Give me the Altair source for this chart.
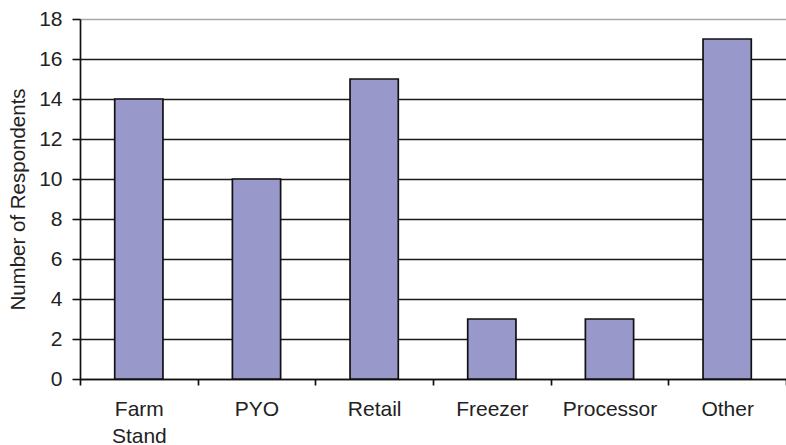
import altair as alt
import pandas as pd

# Survey: number of respondents by sales outlet
categories = ["Farm Stand", "PYO", "Retail", "Freezer", "Processor", "Other"]
respondents = [14, 10, 15, 3, 3, 17]
y_ticks = [0, 2, 4, 6, 8, 10, 12, 14, 16, 18]

df = pd.DataFrame({"outlet": categories, "respondents": respondents})

FONT = "Liberation Sans"

bars = alt.Chart(df).mark_bar(
    width=alt.RelativeBandSize(0.41),
    color="#9898ca",
    stroke="#111111",
    strokeWidth=1.7,
).encode(
    x=alt.X(
        "outlet:N",
        sort=categories,
        title=None,
        scale=alt.Scale(paddingInner=0, paddingOuter=0),
        axis=alt.Axis(
            labelAngle=0,
            tickBand="extent",
            labelExpr="split(datum.label, ' ')",
            labelLineHeight=27,
            labelFont=FONT,
            labelFontSize=21,
            labelColor="#222222",
            labelPadding=13,
            tickSize=6,
            tickColor="#111111",
            tickWidth=1.7,
            domainColor="#111111",
            domainWidth=1.7,
            grid=False,
        ),
    ),
    y=alt.Y(
        "respondents:Q",
        title="Number of Respondents",
        scale=alt.Scale(domain=[0, 18], nice=False),
        axis=alt.Axis(
            values=y_ticks,
            grid=True,
            gridColor={"condition": {"test": "datum.value === 18", "value": "#a8a8a8"}, "value": "#1a1a1a"},
            gridWidth=1.6,
            tickSize=8,
            tickColor="#111111",
            tickWidth=1.6,
            domainColor="#111111",
            domainWidth=1.7,
            labelFont=FONT,
            labelFontSize=21,
            labelColor="#222222",
            labelPadding=10,
            titleFont=FONT,
            titleFontSize=20.5,
            titleFontWeight="normal",
            titleColor="#222222",
            titleX=-62,
            titleBaseline="middle",
        ),
    ),
)

chart = bars.properties(
    width=706,
    height=360,
    autosize=alt.AutoSizeParams(type="none"),
    padding={"left": 80, "top": 19, "right": 0, "bottom": 66},
    background="white",
).configure_view(stroke=None)

chart.save("out.html", embed_options={"renderer": "svg", "actions": False})
